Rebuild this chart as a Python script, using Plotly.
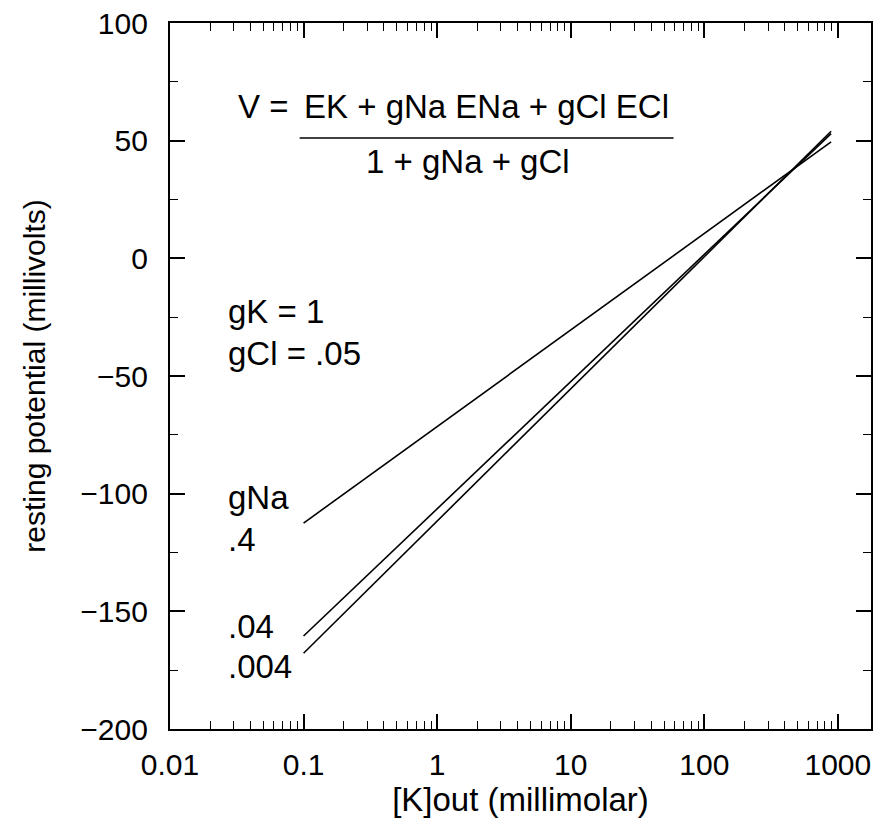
import numpy as np
import plotly.graph_objects as go

# Data
k_out = [0.1, 890]                     # [K]out (millimolar), line endpoints
v_gna_04 = [-112.5, 49.5]              # gNa = .4
v_gna_004 = [-160.5, 53.0]             # gNa = .04
v_gna_0004 = [-167.8, 54.0]            # gNa = .004

x_tick_vals = [0.01, 0.1, 1, 10, 100, 1000]
x_tick_text = ["0.01", "0.1", "1", "10", "100", "1000"]
x_minor_vals = [m * d for d in [0.01, 0.1, 1, 10, 100, 1000] for m in range(2, 10)]

FONT = "Liberation Sans, Arial, Helvetica, sans-serif"
L, R, T, B = 170, 873, 23, 729
W, H = 879, 821

fig = go.Figure()
for ys in [v_gna_04, v_gna_004, v_gna_0004]:
    fig.add_trace(go.Scatter(x=k_out, y=ys, mode="lines",
                             line=dict(color="black", width=1.6),
                             showlegend=False, hoverinfo="skip"))

axis_common = dict(showline=True, linecolor="black", linewidth=2.2, mirror="allticks",
                   ticks="inside", ticklen=15, tickwidth=1.6, tickcolor="black",
                   showgrid=False, zeroline=False,
                   tickfont=dict(family=FONT, size=30, color="black"))

fig.update_xaxes(type="log", range=[-2, 3.248], tickvals=x_tick_vals, ticktext=x_tick_text,
                 minor=dict(tickvals=x_minor_vals, ticks="inside", ticklen=8,
                            tickwidth=1.4, tickcolor="black"),
                 title=dict(text="[K]out (millimolar)", standoff=4,
                            font=dict(family=FONT, size=33, color="black")),
                 ticklabelstandoff=8, **axis_common)
fig.update_yaxes(range=[-200, 100], tick0=-200, dtick=50,
                 minor=dict(dtick=25, ticks="inside", ticklen=8, tickwidth=1.4,
                            tickcolor="black"),
                 title=dict(text="resting potential (millivolts)", standoff=26,
                            font=dict(family=FONT, size=30, color="black")),
                 ticklabelstandoff=14, **axis_common)

def px(x):
    return (x - L) / (R - L)

def py(y):
    return (B - y) / (B - T)

ann_font = dict(family=FONT, size=33, color="black")
anns = [
    ("V =", 236, 106, "left"),
    ("EK + gNa ENa + gCl ECl", 487, 106, "center"),
    ("1 + gNa + gCl", 469, 161, "center"),
    ("gK = 1", 226, 311, "left"),
    ("gCl = .05", 226, 353, "left"),
    ("gNa", 226, 497, "left"),
    (".4", 226, 539, "left"),
    (".04", 226, 626, "left"),
    (".004", 226, 666, "left"),
]
for text, ax_, ay_, xa in anns:
    fig.add_annotation(x=px(ax_), y=py(ay_), xref="paper", yref="paper", text=text,
                       showarrow=False, xanchor=xa, yanchor="middle", font=ann_font)

fig.add_shape(type="line", xref="paper", yref="paper",
              x0=px(300), x1=px(675), y0=py(138), y1=py(138),
              line=dict(color="black", width=1.6))

fig.update_layout(width=W, height=H, margin=dict(l=L, r=W - R, t=T, b=H - B),
                  plot_bgcolor="white", paper_bgcolor="white",
                  font=dict(family=FONT, color="black"))

fig.write_html("out.html")
